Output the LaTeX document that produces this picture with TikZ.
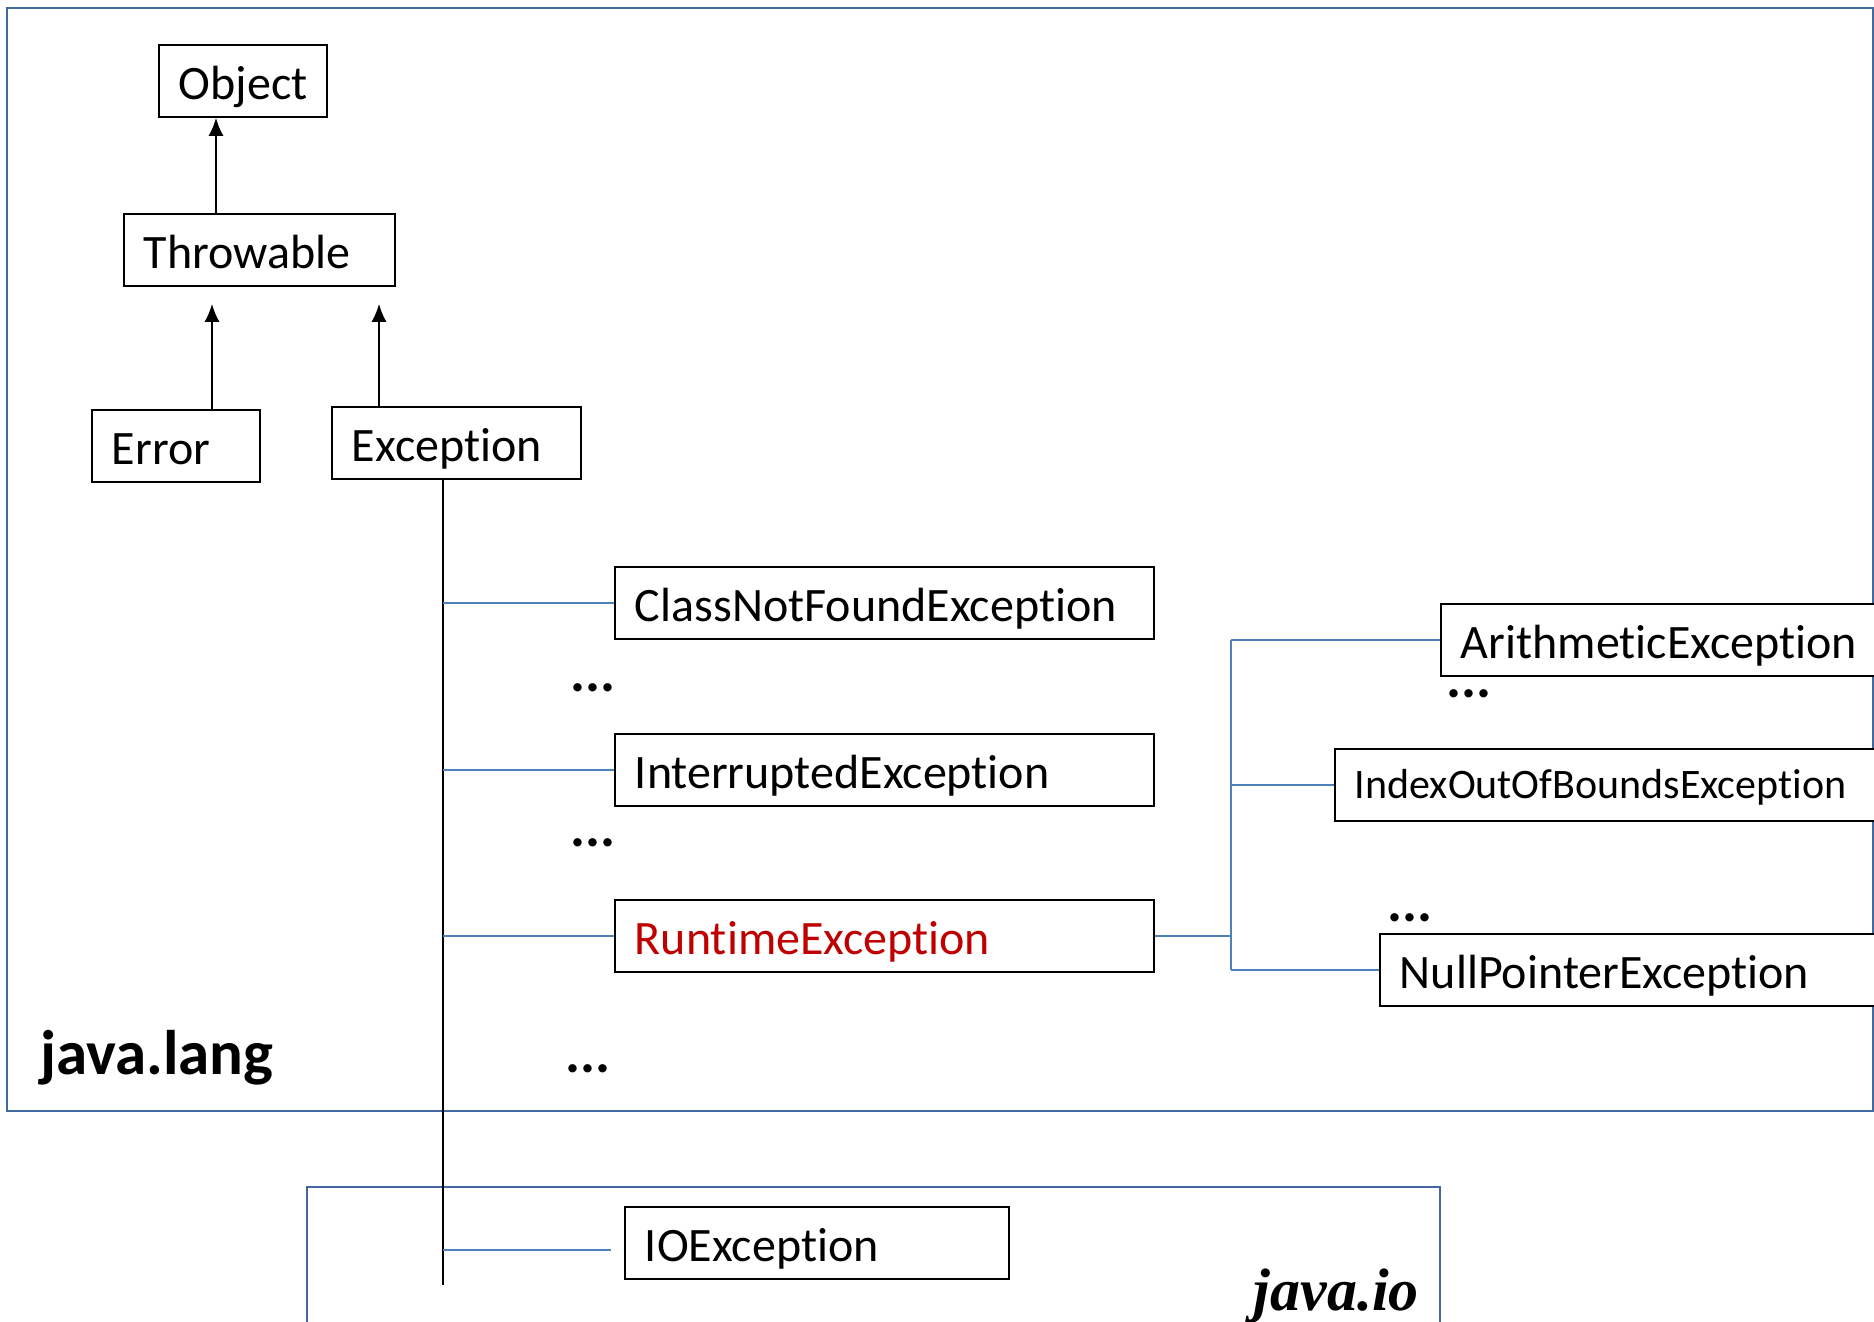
\documentclass[tikz,border=0pt]{standalone}
\usepackage{fontspec}
\setmainfont{Carlito}[Ligatures=NoCommon]
\newfontfamily\iofont{Liberation Serif}
\usetikzlibrary{arrows.meta,calc}
\definecolor{pkgblue}{RGB}{65,105,160}
\definecolor{linkblue}{RGB}{79,129,189}
\definecolor{rtred}{RGB}{192,0,0}

\begin{document}
\begin{tikzpicture}[x=1pt, y=-1pt,
    cls/.style={draw, line width=1.8pt, fill=white, anchor=north west,
      minimum height=72pt, inner xsep=20pt, inner ysep=0pt,
      text height=37pt, text depth=0pt, align=left, text width=#1,
      font=\fontsize{48}{56}\selectfont},
    inh/.style={line width=2pt, -{Latex[length=18pt,width=15pt]}},
    link/.style={linkblue, line width=1.8pt},
    pkg/.style={draw=pkgblue, line width=2pt},
    more/.style={font=\bfseries\fontsize{56}{62}\selectfont, inner sep=0pt}]
    \useasboundingbox (0,0) rectangle (1874,1322);
    % the two packages
    \draw[pkg] (7,8) rectangle (1873,1111);
    \draw[pkg] (307,1187) rectangle (1440,1340);
    \node[anchor=base west, inner sep=0pt, font=\bfseries\fontsize{63}{70}\selectfont] (lang) at (40,1074) {java.lang};
    \node[anchor=base east, inner sep=0pt, font=\iofont\bfseries\itshape\fontsize{60}{66}\selectfont] (io) at (1419,1310) {java.io};

    % classes
    \node[cls=128pt] (Object) at (158,44) {Object};
    \node[cls=231pt] (Throwable) at (123,213) {Throwable};
    \node[cls=128pt] (Error) at (91,409) {Error};
    \node[cls=209pt] (Exception) at (331,406) {Exception};
    \node[cls=499pt] (ClassNotFound) at (614,566) {ClassNotFoundException};
    \node[cls=499pt] (Interrupted) at (614,733) {InterruptedException};
    \node[cls=499pt, text=rtred] (Runtime) at (614,899) {RuntimeException};
    \node[cls=460pt] (Arithmetic) at (1440,603) {ArithmeticException};
    \node[cls=520pt, text height=28pt, font=\fontsize{42}{50}\selectfont] (IndexOut) at (1334,748) {IndexOutOfBoundsException};
    \node[cls=480pt] (NullPointer) at (1379,933) {NullPointerException};
    \node[cls=344pt] (IOExc) at (624,1206) {IOException};

    % inheritance arrows
    \draw[inh] ($(Throwable.north west)+(93,0)$) -- ($(Object.south west)+(58,0)$);
    \draw[inh] ($(Error.north west)+(121,0)$) -- ($(Throwable.south west)+(89,17)$);
    \draw[inh] ($(Exception.north west)+(48,0)$) -- ($(Throwable.south west)+(256,17)$);

    % subclasses of Exception
    \coordinate (trunk) at ($(Exception.south west)+(112,0)$);
    \coordinate (trunkend) at (443,1285);
    \draw[line width=1.5pt] (trunk) -- (trunkend);
    \foreach \c in {ClassNotFound,Interrupted,Runtime}
        \draw[link] (trunk |- \c.west) -- (\c.west);
    \draw[link] ($(IOExc.west)+(-181,7)$) -- ($(IOExc.west)+(-13,7)$);

    % subclasses of RuntimeException
    \coordinate (spine) at ($(Runtime.east)+(76,0)$);
    \draw[link] (Runtime.east) -- (spine);
    \draw[link] (spine |- Arithmetic.west) -- (spine |- NullPointer.west);
    \foreach \c in {Arithmetic,IndexOut,NullPointer}
        \draw[link] (spine |- \c.west) -- (\c.west);

    \foreach \x/\y [count=\i] in {593/688, 593/843, 1469/694, 1410/918, 588/1069}
        \node[more] (dots\i) at (\x,\y) {...};
\end{tikzpicture}
\end{document}
